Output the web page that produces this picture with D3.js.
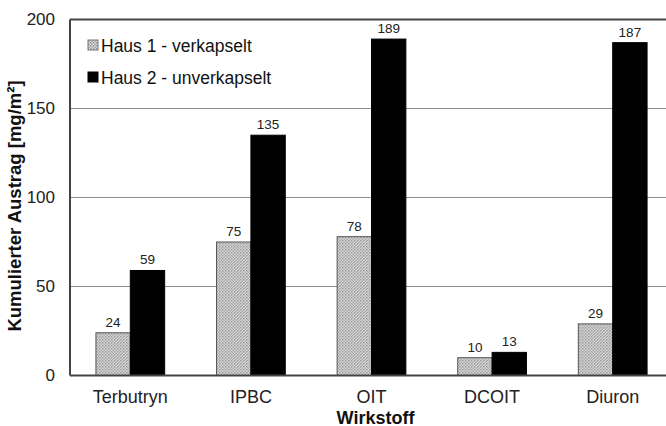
<!DOCTYPE html>
<html><head><meta charset="utf-8">
<script src="https://cdn.jsdelivr.net/npm/d3@7/dist/d3.min.js"></script>
<style>body{margin:0;background:#fff;} svg{display:block;font-family:"Liberation Sans",Arial,sans-serif;}</style>
</head><body><svg id="c" width="666" height="426"></svg>
<script>
const categories = ["Terbutryn", "IPBC", "OIT", "DCOIT", "Diuron"];
const seriesNames = ["Haus 1 - verkapselt", "Haus 2 - unverkapselt"];
const haus1 = [24, 75, 78, 10, 29];
const haus2 = [59, 135, 189, 13, 187];
const yTicks = [0, 50, 100, 150, 200];
const xTitle = "Wirkstoff";
const yTitle = "Kumulierter Austrag [mg/m²]";

const svg = d3.select("#c");
const defs = svg.append("defs");
const pat = defs.append("pattern").attr("id","hatch").attr("patternUnits","userSpaceOnUse").attr("width",3).attr("height",3);
pat.append("rect").attr("width",3).attr("height",3).attr("fill","#d8d8d8");
pat.append("rect").attr("width",1.5).attr("height",1.5).attr("fill","#999");
pat.append("rect").attr("x",1.5).attr("y",1.5).attr("width",1.5).attr("height",1.5).attr("fill","#aaa");

const L = 70, R = 673, T = 19.5, B = 375.5;
const x = d3.scaleBand().domain(categories).range([L, R]).padding(0);
const y = d3.scaleLinear().domain([0, 200]).range([B, T]);
const bw = x.bandwidth() * 0.285;

// gridlines
svg.append("g").selectAll("line").data(yTicks.filter(v => v > 0 && v < 200)).join("line")
  .attr("x1", L).attr("x2", R).attr("y1", d => y(d)).attr("y2", d => y(d))
  .attr("stroke", "#8c8c8c").attr("stroke-width", 1);
svg.append("line").attr("x1", L).attr("x2", R).attr("y1", y(200)).attr("y2", y(200))
  .attr("stroke", "#444").attr("stroke-width", 2);

const data = categories.map((c, i) => ({c, v: [haus1[i], haus2[i]]}));
const g = svg.append("g");
data.forEach(d => {
  const cx = x(d.c) + x.bandwidth() / 2;
  d.v.forEach((v, j) => {
    const x0 = j === 0 ? cx - bw : cx;
    g.append("rect").attr("x", x0).attr("y", y(v)).attr("width", bw).attr("height", y(0) - y(v))
      .attr("fill", j === 0 ? "url(#hatch)" : "#000")
      .attr("stroke", j === 0 ? "#555" : "#000").attr("stroke-width", 1);
    g.append("text").attr("x", x0 + bw / 2).attr("y", y(v) - 6).attr("text-anchor", "middle")
      .attr("font-size", 13.5).attr("fill", "#222").text(v);
  });
});

// axes lines
svg.append("line").attr("x1", L).attr("x2", L).attr("y1", T).attr("y2", B).attr("stroke", "#444").attr("stroke-width", 2);
svg.append("line").attr("x1", L).attr("x2", R).attr("y1", B).attr("y2", B).attr("stroke", "#444").attr("stroke-width", 2);

// y tick labels
const yAxis = d3.axisLeft(y).tickValues(yTicks).tickSize(0).tickPadding(0);
const ya = svg.append("g").attr("transform", `translate(55,0)`).call(yAxis);
ya.select(".domain").remove();
ya.selectAll("text").attr("font-size", 17).attr("fill", "#222").attr("font-family", "Liberation Sans, Arial, sans-serif");

// x tick labels
const xAxis = d3.axisBottom(x).tickSize(0).tickPadding(0);
const xa = svg.append("g").attr("transform", `translate(0,${B})`).call(xAxis);
xa.select(".domain").remove();
xa.selectAll("text").attr("dy", null).attr("y", 27.5).attr("font-size", 18).attr("fill", "#222").attr("font-family", "Liberation Sans, Arial, sans-serif");

// titles
svg.append("text").attr("x", (L + R) / 2 + 4).attr("y", 423.5).attr("text-anchor", "middle")
  .attr("font-size", 18).attr("font-weight", "bold").attr("fill", "#111").text(xTitle);
svg.append("text").attr("transform", "translate(21,206) rotate(-90)").attr("text-anchor", "middle")
  .attr("font-size", 18.5).attr("font-weight", "bold").attr("fill", "#111").text(yTitle);

// legend
const lg = svg.append("g");
seriesNames.forEach((n, i) => {
  const yy = 45 + i * 32;
  lg.append("rect").attr("x", 88).attr("y", yy - 5).attr("width", 10).attr("height", 10)
    .attr("fill", i === 0 ? "url(#hatch)" : "#000").attr("stroke", i === 0 ? "#777" : "#000");
  lg.append("text").attr("x", 101).attr("y", yy + 6.5).attr("font-size", 17.5).attr("fill", "#111").text(n);
});
</script></body></html>
